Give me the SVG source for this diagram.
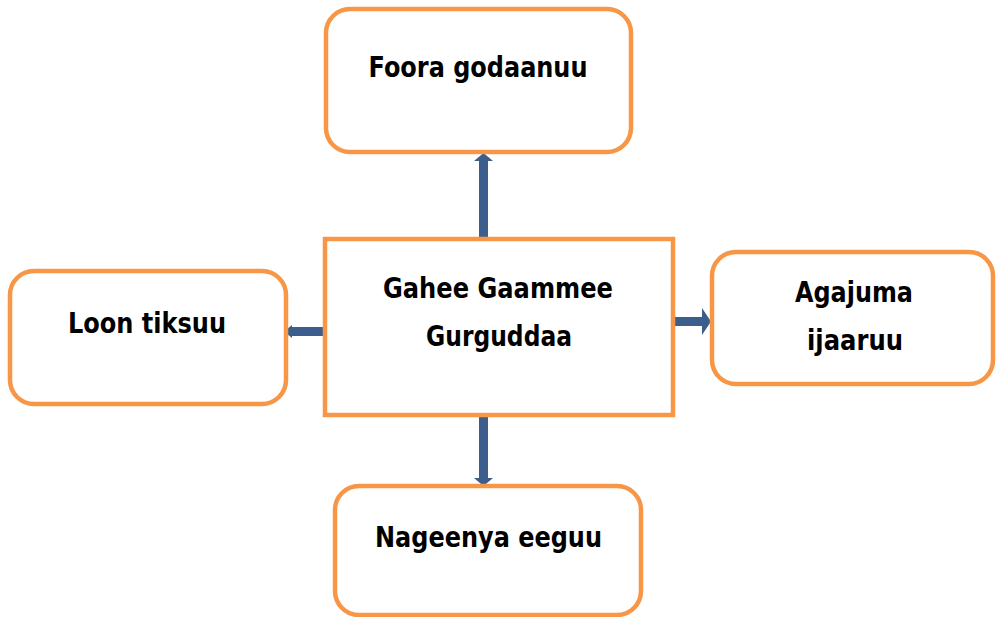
<svg xmlns="http://www.w3.org/2000/svg" width="996" height="617" viewBox="0 0 996 617">
<style>
.box{fill:#fff;stroke:#F79646;stroke-width:4.5}
.arr{fill:#3B5E8C;stroke:none}
text{font-family:"Comic Sans MS","DejaVu Sans",sans-serif;font-weight:bold;font-size:28px;fill:#000;text-anchor:middle}
</style>
<rect width="996" height="617" fill="#fff"/>
<g id="connectors">
<polygon class="arr" points="479,239 479,161 474,161 483.5,153 493,161 488,161 488,239"/>
<polygon class="arr" points="479,415 479,478 474,478 483.5,486 493,478 488,478 488,415"/>
<polygon class="arr" points="325,327 292,327 292,325 284,331.5 292,338 292,336 325,336"/>
<polygon class="arr" points="673,317 702,317 702,308 711,321.5 702,335 702,326 673,326"/>
</g>
<g id="node-top">
<rect class="box" x="326" y="9" width="305" height="143" rx="24"/>
<text x="478" y="77" textLength="219" lengthAdjust="spacingAndGlyphs">Foora godaanuu</text>
</g>
<g id="node-center">
<rect class="box" x="325" y="239" width="348" height="176"/>
<text x="498" y="298" textLength="230" lengthAdjust="spacingAndGlyphs">Gahee Gaammee</text>
<text x="499" y="346" textLength="146" lengthAdjust="spacingAndGlyphs">Gurguddaa</text>
</g>
<g id="node-left">
<rect class="box" x="10" y="271" width="276" height="133" rx="24"/>
<text x="147" y="333" textLength="158" lengthAdjust="spacingAndGlyphs">Loon tiksuu</text>
</g>
<g id="node-right">
<rect class="box" x="712" y="252" width="281" height="132" rx="24"/>
<text x="854" y="302" textLength="118" lengthAdjust="spacingAndGlyphs">Agajuma</text>
<text x="855" y="350" textLength="96" lengthAdjust="spacingAndGlyphs">ijaaruu</text>
</g>
<g id="node-bottom">
<rect class="box" x="335" y="486" width="306" height="129" rx="24"/>
<text x="488.5" y="547" textLength="227" lengthAdjust="spacingAndGlyphs">Nageenya eeguu</text>
</g>
</svg>
